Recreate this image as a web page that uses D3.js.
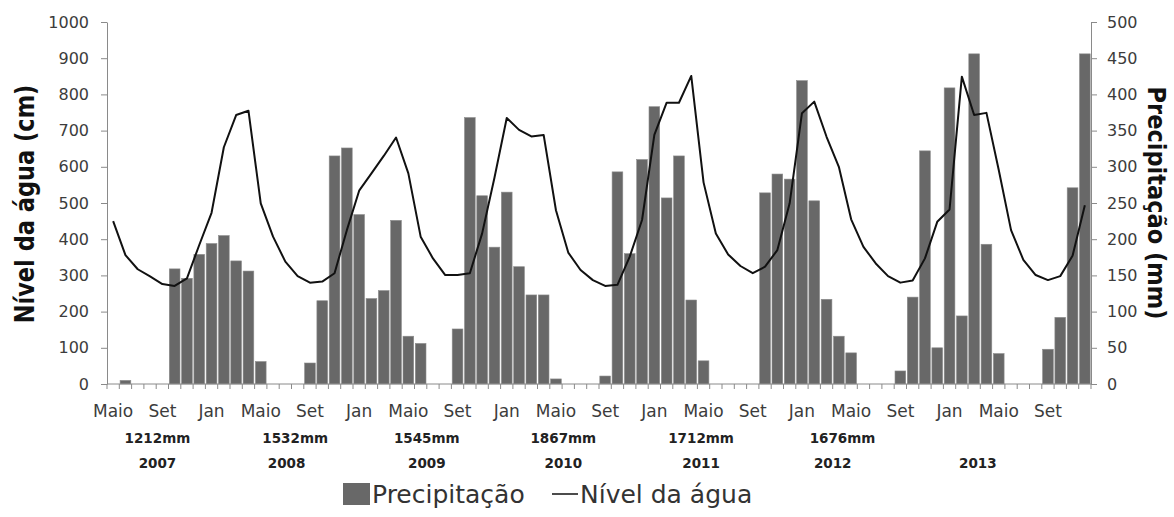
<!DOCTYPE html>
<html>
<head>
<meta charset="utf-8">
<script src="https://cdn.jsdelivr.net/npm/d3@7"></script>
<style>
  body { margin: 0; background: #fff; }
  svg { display: block; }
  text { font-family: "DejaVu Sans", sans-serif; }
</style>
</head>
<body>
<svg id="chart" width="1174" height="517"></svg>
<script>
// Monthly series, May 2007 – December 2013
const months = d3.timeMonth.range(new Date(2007, 4, 1), new Date(2014, 0, 1)).map(d3.timeFormat("%Y-%m"));

// Precipitação mensal (mm)
const precipitacao = [
  0, 5, 0, 0, 0, 159, 146, 179,            // 2007 mai–dez
  194, 205, 170, 156, 31, 0, 0, 0, 29, 115, 315, 326,   // 2008
  234, 118, 129, 226, 66, 56, 0, 0, 76, 368, 260, 189,  // 2009
  265, 162, 123, 123, 7, 0, 0, 0, 11, 293, 180, 310,    // 2010
  383, 257, 315, 116, 32, 0, 0, 0, 0, 264, 290, 283,    // 2011
  419, 253, 117, 66, 43, 0, 0, 0, 18, 120, 322, 50,     // 2012
  409, 94, 456, 193, 42, 0, 0, 0, 48, 92, 271, 456      // 2013
];

// Nível da água (cm)
const nivelAgua = [
  450, 356, 317, 297, 276, 271, 292, 384,
  473, 654, 743, 755, 499, 407, 338, 298, 280, 283, 306, 425,
  534, 582, 630, 681, 582, 407, 347, 301, 301, 306, 416, 570,
  735, 702, 684, 688, 480, 363, 315, 287, 271, 274, 352, 453,
  688, 777, 777, 851, 557, 416, 358, 326, 306, 324, 370, 499,
  748, 780, 683, 600, 455, 379, 333, 298, 280, 286, 347, 448,
  482, 849, 743, 749, 591, 425, 343, 301, 287, 298, 354, 494
];

// Month labels shown every four months
const monthTickLabels = [
  "Maio", "Set", "Jan", "Maio", "Set", "Jan", "Maio", "Set", "Jan", "Maio",
  "Set", "Jan", "Maio", "Set", "Jan", "Maio", "Set", "Jan", "Maio", "Set"
];
const leftTicks = [0, 100, 200, 300, 400, 500, 600, 700, 800, 900, 1000];
const rightTicks = [0, 50, 100, 150, 200, 250, 300, 350, 400, 450, 500];

// Annual totals and hydrological years written under the axis
const totalAnual = ["1212mm", "1532mm", "1545mm", "1867mm", "1712mm", "1676mm"];
const anos = ["2007", "2008", "2009", "2010", "2011", "2012", "2013"];
// horizontal anchors of those labels, in month units from the first month
const totalAt = [3.6, 14.8, 25.5, 36.6, 47.8, 59.3];
const anoAt = [3.6, 14.1, 25.5, 36.6, 47.8, 58.5, 70.3];

const svg = d3.select("#chart");
const plot = { left: 107, right: 1091, top: 22, bottom: 384 };

const x = d3.scaleBand()
  .domain(d3.range(months.length))
  .range([plot.left, plot.right])
  .paddingInner(0.13)
  .paddingOuter(0.065);
const bw = x.bandwidth();
const cx = i => x(i) + bw / 2;
const atMonth = m => x(0) + bw / 2 + m * x.step();

const yL = d3.scaleLinear().domain([0, 1000]).range([plot.bottom, plot.top]);
const yR = d3.scaleLinear().domain([0, 500]).range([plot.bottom, plot.top]);

const axisColor = "#8a8a8a";
const labelColor = "#3c3c3c";

// Bars: precipitation on the right axis
svg.append("g")
  .selectAll("rect")
  .data(precipitacao.map((v, i) => ({ v, i })).filter(d => d.v > 0))
  .join("rect")
  .attr("x", d => x(d.i))
  .attr("y", d => yR(d.v))
  .attr("width", bw)
  .attr("height", d => yR(0) - yR(d.v))
  .attr("fill", "#686868")
  .attr("stroke", "#8c8c8c")
  .attr("stroke-width", 0.6);

// Left axis
const gL = svg.append("g")
  .attr("transform", `translate(${plot.left},0)`)
  .call(d3.axisLeft(yL).tickValues(leftTicks).tickFormat(d3.format("d"))
    .tickSize(6).tickPadding(12).tickSizeOuter(0));
// Right axis
const gR = svg.append("g")
  .attr("transform", `translate(${plot.right},0)`)
  .call(d3.axisRight(yR).tickValues(rightTicks).tickFormat(d3.format("d"))
    .tickSize(6).tickPadding(10).tickSizeOuter(0));

[gL, gR].forEach(g => {
  g.select(".domain").attr("stroke", axisColor).attr("stroke-width", 1);
  g.selectAll(".tick line").attr("stroke", axisColor);
  g.selectAll(".tick text")
    .attr("font-family", "DejaVu Sans, sans-serif")
    .attr("font-size", 16)
    .attr("fill", labelColor);
});

// Bottom axis: baseline, month-boundary ticks and labels every four months
const gB = svg.append("g");
gB.append("line")
  .attr("x1", plot.left).attr("x2", plot.right)
  .attr("y1", yL(0)).attr("y2", yL(0))
  .attr("stroke", axisColor);
gB.selectAll("line.mtick")
  .data(d3.range(months.length + 1))
  .join("line")
  .attr("class", "mtick")
  .attr("x1", k => x.range()[0] + k * x.step())
  .attr("x2", k => x.range()[0] + k * x.step())
  .attr("y1", yL(0)).attr("y2", yL(0) + 5)
  .attr("stroke", axisColor);
gB.selectAll("text.mlabel")
  .data(monthTickLabels)
  .join("text")
  .attr("class", "mlabel")
  .attr("x", (d, j) => cx(j * 4))
  .attr("y", 417)
  .attr("text-anchor", "middle")
  .attr("font-size", 17)
  .attr("fill", labelColor)
  .text(d => d);

// Water level line on the left axis
svg.append("path")
  .datum(nivelAgua)
  .attr("fill", "none")
  .attr("stroke", "#111")
  .attr("stroke-width", 2)
  .attr("stroke-linejoin", "round")
  .attr("d", d3.line().x((d, i) => cx(i)).y(d => yL(d)));

// Totals and years
svg.append("g").selectAll("text")
  .data(totalAnual)
  .join("text")
  .attr("x", (d, j) => atMonth(totalAt[j]))
  .attr("y", 443)
  .attr("text-anchor", "middle")
  .attr("font-size", 13.5)
  .attr("font-weight", "bold")
  .attr("fill", "#222")
  .text(d => d);
svg.append("g").selectAll("text")
  .data(anos)
  .join("text")
  .attr("x", (d, j) => atMonth(anoAt[j]))
  .attr("y", 468)
  .attr("text-anchor", "middle")
  .attr("font-size", 13.5)
  .attr("font-weight", "bold")
  .attr("fill", "#222")
  .text(d => d);

// Axis titles
svg.append("text")
  .attr("transform", "translate(34,204) scale(1.2,1) rotate(-90)")
  .attr("text-anchor", "middle")
  .attr("font-size", 22.5)
  .attr("font-weight", "bold")
  .attr("fill", "#111")
  .text("Nível da água (cm)");
svg.append("text")
  .attr("transform", "translate(1148,203) scale(1.1,1) rotate(90)")
  .attr("text-anchor", "middle")
  .attr("font-size", 22.5)
  .attr("font-weight", "bold")
  .attr("fill", "#111")
  .text("Precipitação (mm)");

// Legend
const lg = svg.append("g");
lg.append("rect")
  .attr("x", 343).attr("y", 483).attr("width", 27).attr("height", 22)
  .attr("fill", "#686868");
lg.append("text")
  .attr("x", 372).attr("y", 503)
  .attr("font-size", 25)
  .attr("fill", "#333")
  .text("Precipitação");
lg.append("line")
  .attr("x1", 552).attr("x2", 578).attr("y1", 494).attr("y2", 494)
  .attr("stroke", "#111").attr("stroke-width", 1.5);
lg.append("text")
  .attr("x", 580).attr("y", 503)
  .attr("font-size", 25)
  .attr("fill", "#333")
  .text("Nível da água");
</script>
</body>
</html>
